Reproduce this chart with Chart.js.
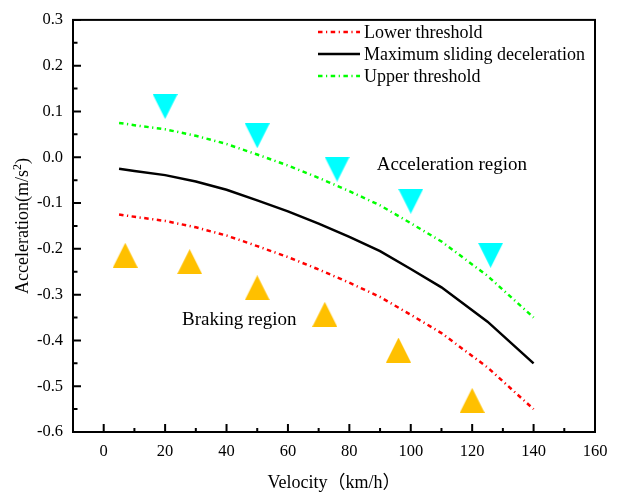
<!DOCTYPE html>
<html>
<head>
<meta charset="utf-8">
<title>Acceleration thresholds vs velocity</title>
<style>
  body { margin: 0; background: #fff; }
</style>
</head>
<body>
<script src="https://cdn.jsdelivr.net/npm/chart.js@4.4.0/dist/chart.umd.min.js"></script>
<canvas id="myChart" width="624" height="495"></canvas>
<script>
  // curve data (km/h, m/s^2)
  var velocity = [5, 10, 20, 30, 40, 50, 60, 70, 80, 90, 100, 110, 125, 140];
  var maxSliding = [-0.025, -0.030, -0.039, -0.053, -0.071, -0.094, -0.118, -0.145, -0.174, -0.205, -0.244, -0.284, -0.359, -0.450];
  var lowerThreshold = [-0.125, -0.130, -0.139, -0.153, -0.171, -0.194, -0.218, -0.245, -0.274, -0.305, -0.344, -0.384, -0.459, -0.550];
  var upperThreshold = [0.075, 0.070, 0.061, 0.047, 0.029, 0.006, -0.018, -0.045, -0.074, -0.105, -0.144, -0.184, -0.259, -0.350];

  // marker points
  var accelVelocity = [20, 50, 76, 100, 126];
  var accelValues = [0.111, 0.047, -0.026, -0.096, -0.214];
  var brakeVelocity = [7, 28, 50, 72, 96, 120];
  var brakeValues = [-0.214, -0.228, -0.285, -0.343, -0.421, -0.531];

  // axes
  var xTicks = [0, 20, 40, 60, 80, 100, 120, 140, 160];
  var xMinor = [10, 30, 50, 70, 90, 110, 130, 150];
  var yTicks = [-0.6, -0.5, -0.4, -0.3, -0.2, -0.1, 0, 0.1, 0.2, 0.3];
  var yMinor = [-0.55, -0.45, -0.35, -0.25, -0.15, -0.05, 0.05, 0.15, 0.25];

  var SERIF = "'Liberation Serif', 'Times New Roman', 'Noto Sans CJK SC', serif";

  function toPoints(xs, ys) {
    var pts = [];
    for (var i = 0; i < xs.length; i++) {
      pts.push({x: xs[i], y: ys[i]});
    }
    return pts;
  }

  function triangleImage(color, down) {
    var c = document.createElement('canvas');
    c.width = 25;
    c.height = 25;
    var g = c.getContext('2d');
    g.fillStyle = color;
    g.beginPath();
    if (down) {
      g.moveTo(0, 0); g.lineTo(25, 0); g.lineTo(12.5, 25);
    } else {
      g.moveTo(12.5, 0); g.lineTo(25, 25); g.lineTo(0, 25);
    }
    g.closePath();
    g.fill();
    return c;
  }

  var decorPlugin = {
    id: 'decor',
    afterDraw: function(chart) {
      var ctx = chart.ctx;
      var area = chart.chartArea;
      var xs = chart.scales.x;
      var ys = chart.scales.y;
      ctx.save();

      // frame
      ctx.strokeStyle = '#000';
      ctx.lineWidth = 2;
      ctx.setLineDash([]);
      ctx.strokeRect(area.left, area.top, area.right - area.left, area.bottom - area.top);

      // inward ticks
      ctx.beginPath();
      xTicks.forEach(function(v) {
        var px = xs.getPixelForValue(v);
        ctx.moveTo(px, area.bottom); ctx.lineTo(px, area.bottom - 8);
      });
      xMinor.forEach(function(v) {
        var px = xs.getPixelForValue(v);
        ctx.moveTo(px, area.bottom); ctx.lineTo(px, area.bottom - 4);
      });
      yTicks.forEach(function(v) {
        var py = ys.getPixelForValue(v);
        ctx.moveTo(area.left, py); ctx.lineTo(area.left + 8, py);
      });
      yMinor.forEach(function(v) {
        var py = ys.getPixelForValue(v);
        ctx.moveTo(area.left, py); ctx.lineTo(area.left + 4.5, py);
      });
      ctx.stroke();

      // axis titles
      ctx.fillStyle = '#000';
      ctx.font = '18px ' + SERIF;
      ctx.textAlign = 'center';
      ctx.textBaseline = 'middle';
      ctx.fillText('Velocity\uFF08km/h\uFF09', (area.left + area.right) / 2, 483);

      ctx.save();
      ctx.translate(22, (area.top + area.bottom) / 2);
      ctx.rotate(-Math.PI / 2);
      var main = 'Acceleration(m/s';
      ctx.font = '18px ' + SERIF;
      var w1 = ctx.measureText(main).width;
      ctx.font = '12px ' + SERIF;
      var w2 = ctx.measureText('2').width;
      ctx.font = '18px ' + SERIF;
      var w3 = ctx.measureText(')').width;
      var start = -(w1 + w2 + w3) / 2;
      ctx.textAlign = 'left';
      ctx.textBaseline = 'alphabetic';
      ctx.fillText(main, start, 6);
      ctx.font = '12px ' + SERIF;
      ctx.fillText('2', start + w1, -1);
      ctx.font = '18px ' + SERIF;
      ctx.fillText(')', start + w1 + w2, 6);
      ctx.restore();

      // region labels
      ctx.font = '19px ' + SERIF;
      ctx.textAlign = 'left';
      ctx.textBaseline = 'alphabetic';
      ctx.fillText('Acceleration region', xs.getPixelForValue(88.9), ys.getPixelForValue(-0.028));
      ctx.fillText('Braking region', xs.getPixelForValue(25.5), ys.getPixelForValue(-0.366));

      // legend for the three curves
      ctx.font = '18px ' + SERIF;
      ctx.textBaseline = 'middle';
      var rows = [32, 54, 76];
      for (var i = 0; i < 3; i++) {
        var ds = chart.data.datasets[i];
        ctx.strokeStyle = ds.borderColor;
        ctx.lineWidth = ds.borderWidth;
        ctx.setLineDash(ds.borderDash || []);
        ctx.beginPath();
        ctx.moveTo(318, rows[i]);
        ctx.lineTo(360, rows[i]);
        ctx.stroke();
        ctx.setLineDash([]);
        ctx.fillStyle = '#000';
        ctx.fillText(ds.label, 364, rows[i] + 1);
      }
      ctx.restore();
    }
  };

  var ctx = document.getElementById('myChart');
  var myChart = new Chart(ctx, {
    type: 'line',
    data: {
      datasets: [
        {
          label: 'Lower threshold',
          data: toPoints(velocity, lowerThreshold),
          borderColor: '#ff0000',
          borderWidth: 2.5,
          borderDash: [4.5, 3.5, 1.2, 3.5],
          pointRadius: 0,
          tension: 0,
          fill: false
        },
        {
          label: 'Maximum sliding deceleration',
          data: toPoints(velocity, maxSliding),
          borderColor: '#000000',
          borderWidth: 2.5,
          pointRadius: 0,
          tension: 0,
          fill: false
        },
        {
          label: 'Upper threshold',
          data: toPoints(velocity, upperThreshold),
          borderColor: '#00ff00',
          borderWidth: 2.5,
          borderDash: [4.5, 3.5, 1.2, 3.5],
          pointRadius: 0,
          tension: 0,
          fill: false
        },
        {
          label: 'Acceleration points',
          data: toPoints(accelVelocity, accelValues),
          showLine: false,
          pointStyle: triangleImage('#00ffff', true),
          pointRadius: 12
        },
        {
          label: 'Braking points',
          data: toPoints(brakeVelocity, brakeValues),
          showLine: false,
          pointStyle: triangleImage('#ffc000', false),
          pointRadius: 12
        }
      ]
    },
    options: {
      responsive: false,
      animation: false,
      devicePixelRatio: 1,
      layout: { padding: { top: 13, right: 29, left: 0, bottom: 0 } },
      plugins: {
        legend: { display: false },
        tooltip: { enabled: false }
      },
      scales: {
        x: {
          type: 'linear',
          min: -10,
          max: 160,
          afterBuildTicks: function(scale) {
            scale.ticks = xTicks.map(function(v) { return {value: v}; });
          },
          afterFit: function(scale) { scale.height = 63; },
          grid: { display: false, drawTicks: false },
          border: { display: false },
          ticks: {
            padding: 10,
            maxRotation: 0,
            autoSkip: false,
            color: '#000',
            font: { family: SERIF, size: 16.5 }
          }
        },
        y: {
          type: 'linear',
          min: -0.6,
          max: 0.3,
          afterBuildTicks: function(scale) {
            scale.ticks = yTicks.map(function(v) { return {value: v}; });
          },
          afterFit: function(scale) { scale.width = 73; },
          grid: { display: false, drawTicks: false },
          border: { display: false },
          ticks: {
            padding: 10,
            autoSkip: false,
            color: '#000',
            font: { family: SERIF, size: 16.5 },
            callback: function(v) { return v.toFixed(1); }
          }
        }
      }
    },
    plugins: [decorPlugin]
  });
</script>
</body>
</html>
